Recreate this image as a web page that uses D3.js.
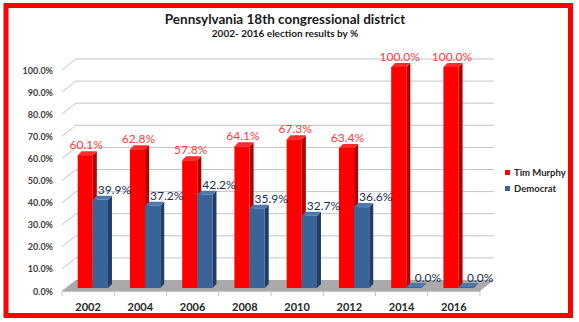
<!DOCTYPE html>
<html><head><meta charset="utf-8">
<script src="https://cdn.jsdelivr.net/npm/d3@7"></script>
<style>body{margin:0;background:#fff}svg{display:block}</style>
</head><body>
<script>
const years = ["2002","2004","2006","2008","2010","2012","2014","2016"];
const murphy = [60.1, 62.8, 57.8, 64.1, 67.3, 63.4, 100.0, 100.0];
const democrat = [39.9, 37.2, 42.2, 35.9, 32.7, 36.6, 0.0, 0.0];
const yTicks = [0,10,20,30,40,50,60,70,80,90,100];
const seriesNames = ["Tim Murphy","Democrat"];
const title = "Pennsylvania 18th congressional district";
const subtitle = "2002- 2016 election results by %";

const W = 579, H = 322;
const svg = d3.select("body").append("svg").attr("width", W).attr("height", H);
const font = "Lato, 'Open Sans', sans-serif";

svg.append("rect").attr("width", W).attr("height", H).attr("fill", "#fff");
svg.append("rect").attr("x", 6).attr("y", 5.5).attr("width", 564.5).attr("height", 310)
  .attr("fill", "#fff").attr("stroke", "#ff0000").attr("stroke-width", 5);

const x = d3.scaleBand().domain(years).range([62, 480]);
const y = d3.scaleLinear().domain([0, 100]).range([291, 70]);
const DX = 14, DY = -11;   // wall depth
const bdx = 4, bdy = -4;   // bar depth
const mid = -3;            // bar plane shift

// floor
const floorPts = [[62, y(0)], [480, y(0)], [480 + DX, y(0) + DY], [62 + DX, y(0) + DY]];
svg.append("polygon").attr("points", floorPts.map(p => p.join(",")).join(" "))
  .attr("fill", "#aaaaaa");

// gridlines
const grid = svg.append("g").attr("stroke", "#c4c4c4").attr("stroke-width", 1).attr("fill", "none");
yTicks.forEach(v => {
  const yy = y(v);
  if (v > 0) {
    grid.append("line").attr("x1", 62 + DX).attr("x2", 480 + DX)
      .attr("y1", yy + DY).attr("y2", yy + DY);
  }
  grid.append("line").attr("x1", 62).attr("y1", yy).attr("x2", 62 + DX).attr("y2", yy + DY);
});

// y labels
svg.append("g").selectAll("text").data(yTicks).join("text")
  .attr("x", 53).attr("y", d => y(d) + 3.5).attr("text-anchor", "end")
  .attr("font-family", font).attr("font-weight", "bold").attr("font-size", 9)
  .attr("fill", "#404040").text(d => d.toFixed(1) + "%");

// x axis line & ticks
svg.append("line").attr("x1", 62).attr("x2", 480).attr("y1", y(0) + 0.5).attr("y2", y(0) + 0.5)
  .attr("stroke", "#c4c4c4");
const tickPos = years.map(d => x(d)).concat([480]);
svg.append("g").selectAll("line").data(tickPos).join("line")
  .attr("x1", d => d).attr("x2", d => d).attr("y1", y(0)).attr("y2", y(0) + 5)
  .attr("stroke", "#c4c4c4");

svg.append("g").selectAll("text").data(years).join("text")
  .attr("x", d => x(d) + x.bandwidth() / 2).attr("y", 311).attr("text-anchor", "middle")
  .attr("font-family", font).attr("font-weight", "bold").attr("font-size", 11)
  .attr("fill", "#262626").text(d => d);

// bars
const colors = [
  {front: "#ff0000", side: "#b50000", top: "#ff2a2a", label: "#ff3b3b"},
  {front: "#3a6498", side: "#213f66", top: "#4d78ad", label: "#1c2f52"}
];
const bw = x.bandwidth() * 0.29;
function bar(g, x0, v, c) {
  const yb = y(0) + mid;
  let yt = y(v) + mid;
  if (yb - yt < 1) yt = yb - 1;
  const x1 = x0 + bw;
  g.append("polygon").attr("points", [[x1, yt], [x1 + bdx, yt + bdy], [x1 + bdx, yb + bdy], [x1, yb]].map(p => p.join(",")).join(" "))
    .attr("fill", c.side);
  g.append("polygon").attr("points", [[x0, yt], [x0 + bdx, yt + bdy], [x1 + bdx, yt + bdy], [x1, yt]].map(p => p.join(",")).join(" "))
    .attr("fill", c.top);
  g.append("rect").attr("x", x0).attr("y", yt).attr("width", bw).attr("height", yb - yt)
    .attr("fill", c.front);
}
const bars = svg.append("g");
years.forEach((yr, i) => {
  const r0 = x(yr) + x.bandwidth() * 0.3;
  const b0 = r0 + bw;
  bar(bars, r0, murphy[i], colors[0]);
  bar(bars, b0, democrat[i], colors[1]);
});

// data labels
const lab = svg.append("g").attr("font-family", font).attr("font-size", 12);
years.forEach((yr, i) => {
  const r0 = x(yr) + x.bandwidth() * 0.3;
  const b0 = r0 + bw;
  lab.append("text").attr("x", r0 + bw / 2 + 1).attr("y", y(murphy[i]) + mid - 6)
    .attr("text-anchor", "middle").attr("fill", colors[0].label).text(murphy[i].toFixed(1) + "%");
  lab.append("text").attr("x", b0 + bw / 2 + 14).attr("y", y(democrat[i]) + mid - 6)
    .attr("text-anchor", "middle").attr("fill", colors[1].label).text(democrat[i].toFixed(1) + "%");
});

// title
svg.append("text").attr("x", 285).attr("y", 24).attr("text-anchor", "middle")
  .attr("font-family", font).attr("font-weight", "bold").attr("font-size", 13.5)
  .attr("fill", "#1a1a1a").text(title);
svg.append("text").attr("x", 285).attr("y", 37).attr("text-anchor", "middle")
  .attr("font-family", font).attr("font-weight", "bold").attr("font-size", 10)
  .attr("fill", "#1a1a1a").text(subtitle);

// legend
const leg = svg.append("g");
seriesNames.forEach((n, i) => {
  const ly = 176 + i * 16;
  leg.append("rect").attr("x", 505).attr("y", ly - 6).attr("width", 5).attr("height", 5)
    .attr("fill", colors[i].front);
  leg.append("text").attr("x", 514).attr("y", ly).attr("font-family", font)
    .attr("font-weight", "bold").attr("font-size", 9.5).attr("fill", "#262626").text(n);
});
</script>
</body></html>
